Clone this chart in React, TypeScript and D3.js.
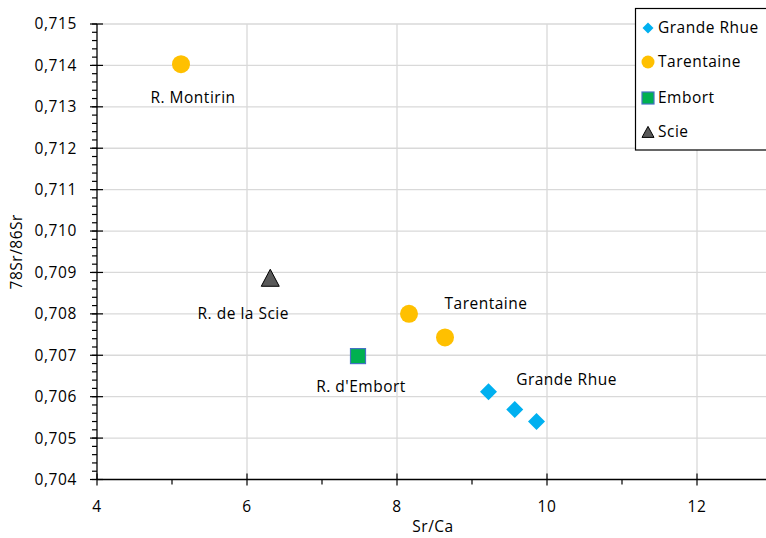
import React from "react";
import * as d3 from "d3";

const seriesNames = ["Grande Rhue", "Tarentaine", "Embort", "Scie"];
const grandeRhueX = [9.22, 9.57, 9.86];
const grandeRhueY = [0.70612, 0.70569, 0.7054];
const tarentaineX = [5.12, 8.16, 8.64];
const tarentaineY = [0.71403, 0.708, 0.70743];
const embortX = [7.48];
const embortY = [0.70698];
const scieX = [6.31];
const scieY = [0.70883];
const xTicks = [4, 6, 8, 10, 12];
const yTicks = [0.704, 0.705, 0.706, 0.707, 0.708, 0.709, 0.71, 0.711, 0.712, 0.713, 0.714, 0.715];
const annotations = [
  { text: "R. Montirin", x: 5.12, y: 0.71403, dx: 12, dy: 33 },
  { text: "R. de la Scie", x: 6.31, y: 0.70883, dx: -27, dy: 34 },
  { text: "Tarentaine", x: 8.16, y: 0.708, dx: 77, dy: -10 },
  { text: "R. d'Embort", x: 7.48, y: 0.70698, dx: 3, dy: 30 },
  { text: "Grande Rhue", x: 9.22, y: 0.70612, dx: 78, dy: -12 },
];

const FONT = "'Open Sans', 'Noto Sans', sans-serif";
const W = 766;
const H = 538;

export default function App() {
  const x = d3.scaleLinear().domain([4, 14]).range([97, 847]);
  const y = d3.scaleLinear().domain([0.704, 0.715]).range([479.5, 24]);
  const axisY = y(0.704);
  const axisX = x(4);
  const fmt = (v: number) => d3.format(".3f")(v).replace(".", ",");

  const yMinor = d3.range(0.704, 0.7150001, 0.0002);
  const xMinor = [5, 7, 9, 11, 13];

  const grGray = "#d9d9d9";
  const blue = "#00B0F0";
  const gold = "#FFC000";
  const green = "#00B050";
  const squareStroke = "#4472C4";
  const gray = "#595959";

  const diamondPath = (s: number) => {
    const h = s / 2;
    return `M0,${-h}L${h},0L0,${h}L${-h},0Z`;
  };
  const triPath = (w: number, h: number) => `M0,${-h * 0.6}L${w / 2},${h * 0.4}L${-w / 2},${h * 0.4}Z`;

  const legendYs = [28, 62, 98, 132];

  return (
    <svg
      width={W}
      height={H}
      style={{ position: "absolute", left: 0, top: 0, background: "#fff" }}
      fontFamily={FONT}
    >
      <rect x={0} y={0} width={W} height={H} fill="#fff" />
      {/* gridlines */}
      {yTicks.filter((t) => t > 0.704).map((t) => (
        <line key={"gy" + t} x1={axisX} x2={W} y1={y(t)} y2={y(t)} stroke={grGray} strokeWidth={1.3} />
      ))}
      {xTicks.filter((t) => t > 4).map((t) => (
        <line key={"gx" + t} x1={x(t)} x2={x(t)} y1={y(0.715)} y2={axisY} stroke={grGray} strokeWidth={1.3} />
      ))}
      {/* axes */}
      <line x1={axisX} x2={axisX} y1={y(0.715)} y2={axisY} stroke="#000" strokeWidth={1.3} />
      <line x1={axisX} x2={W} y1={axisY} y2={axisY} stroke="#000" strokeWidth={1.3} />
      {yMinor.map((t, i) => (
        <line key={"ym" + i} x1={axisX - 5} x2={axisX} y1={y(t)} y2={y(t)} stroke="#000" strokeWidth={1.2} />
      ))}
      {yTicks.map((t) => (
        <line key={"yt" + t} x1={axisX - 7} x2={axisX + 6} y1={y(t)} y2={y(t)} stroke="#000" strokeWidth={1.2} />
      ))}
      {xMinor.map((t) => (
        <line key={"xm" + t} x1={x(t)} x2={x(t)} y1={axisY} y2={axisY + 5} stroke="#000" strokeWidth={1.2} />
      ))}
      {xTicks.map((t) => (
        <line key={"xt" + t} x1={x(t)} x2={x(t)} y1={axisY - 6} y2={axisY + 6} stroke="#000" strokeWidth={1.2} />
      ))}
      {/* tick labels */}
      {yTicks.map((t) => (
        <text key={"yl" + t} x={77} y={y(t)} dy="0.35em" textAnchor="end" fontSize={15.5} fill="#000" letterSpacing={0.6}>
          {fmt(t)}
        </text>
      ))}
      {xTicks.map((t) => (
        <text key={"xl" + t} x={x(t)} y={507} dy="0.35em" textAnchor="middle" fontSize={15.5} fill="#000" letterSpacing={0.6}>
          {t}
        </text>
      ))}
      {/* axis titles */}
      <text x={433} y={527} dy="0.35em" textAnchor="middle" fontSize={15.5} fill="#000" letterSpacing={0.5}>
        Sr/Ca
      </text>
      <text
        transform={`translate(17,${(y(0.715) + axisY) / 2}) rotate(-90)`}
        dy="0.35em"
        textAnchor="middle"
        fontSize={15.5}
        fill="#000"
        letterSpacing={0.5}
      >
        78Sr/86Sr
      </text>
      {/* data */}
      {tarentaineX.map((v, i) => (
        <circle key={"ta" + i} cx={x(v)} cy={y(tarentaineY[i])} r={9} fill={gold} />
      ))}
      {grandeRhueX.map((v, i) => (
        <path key={"gr" + i} transform={`translate(${x(v)},${y(grandeRhueY[i])})`} d={diamondPath(17)} fill={blue} />
      ))}
      {embortX.map((v, i) => (
        <rect key={"em" + i} x={x(v) - 7.5} y={y(embortY[i]) - 7.5} width={15} height={15} fill={green} stroke={squareStroke} strokeWidth={1.2} />
      ))}
      {scieX.map((v, i) => (
        <path key={"sc" + i} transform={`translate(${x(v)},${y(scieY[i])})`} d={triPath(18, 17)} fill={gray} stroke="#000" strokeWidth={1} />
      ))}
      {/* annotations */}
      {annotations.map((a) => (
        <text key={a.text} x={x(a.x) + a.dx} y={y(a.y) + a.dy} dy="0.35em" textAnchor="middle" fontSize={15.5} fill="#000" letterSpacing={0.5}>
          {a.text}
        </text>
      ))}
      {/* legend */}
      <rect x={635.5} y={8.5} width={140} height={141.5} fill="#fff" stroke="#000" strokeWidth={1.2} />
      {seriesNames.map((n, i) => {
        const ly = legendYs[i];
        const mx = 648;
        let marker;
        if (i === 0) marker = <path transform={`translate(${mx},${ly})`} d={diamondPath(11)} fill={blue} />;
        else if (i === 1) marker = <circle cx={mx} cy={ly} r={6.5} fill={gold} />;
        else if (i === 2)
          marker = <rect x={mx - 6} y={ly - 6} width={12} height={12} fill={green} stroke={squareStroke} strokeWidth={1.2} />;
        else marker = <path transform={`translate(${mx},${ly + 1})`} d={triPath(12, 11)} fill={gray} stroke="#000" strokeWidth={1} />;
        return (
          <g key={n}>
            {marker}
            <text x={658} y={ly} dy="0.35em" fontSize={15.5} fill="#000" letterSpacing={0.5}>
              {n}
            </text>
          </g>
        );
      })}
    </svg>
  );
}
